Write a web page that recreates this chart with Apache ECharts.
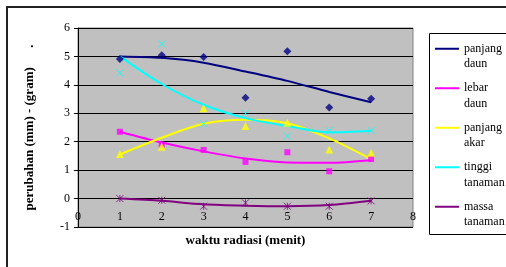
<!DOCTYPE html>
<html>
<head>
<meta charset="utf-8">
<script src="https://cdn.jsdelivr.net/npm/echarts@6/dist/echarts.min.js"></script>
<style>
  html, body { margin: 0; padding: 0; background: #fff; }
  #chart { width: 506px; height: 267px; }
</style>
</head>
<body>
<div id="chart"></div>
<script>
// waktu radiasi (menit)
const xValues = [1, 2, 3, 4, 5, 6, 7];
const xTicks = [0, 1, 2, 3, 4, 5, 6, 7, 8];
const yTicks = [-1, 0, 1, 2, 3, 4, 5, 6];

// titik data
const panjangDaun = [4.91, 5.04, 4.98, 3.55, 5.18, 3.20, 3.51];
const lebarDaun = [2.35, 1.90, 1.71, 1.29, 1.63, 0.96, 1.39];
const panjangAkar = [1.57, 1.82, 3.18, 2.55, 2.67, 1.73, 1.61];
const tinggiTanaman = [4.42, 5.44, 2.63, 3.00, 2.20, 2.39, 2.39];
const massaTanaman = [0.00, -0.06, -0.27, -0.15, -0.27, -0.27, -0.08];

// garis trend
const trendPanjangDaun = [5.00, 4.95, 4.78, 4.47, 4.14, 3.75, 3.39];
const trendLebarDaun = [2.35, 1.97, 1.66, 1.41, 1.27, 1.26, 1.35];
const trendPanjangAkar = [1.55, 2.14, 2.63, 2.77, 2.65, 2.12, 1.39];
const trendTinggiTanaman = [5.00, 4.03, 3.30, 2.83, 2.55, 2.33, 2.39];
const trendMassaTanaman = [0.00, -0.08, -0.20, -0.25, -0.27, -0.23, -0.08];

const names = ['panjang daun', 'lebar daun', 'panjang akar', 'tinggi tanaman', 'massa tanaman'];
const colors = ['#000080', '#FF00FF', '#FFFF00', '#00FFFF', '#800080'];

const font = 'Liberation Serif, Times New Roman, serif';

function pairs(ys) {
  return xValues.map(function (x, i) { return [x, ys[i]]; });
}

const points = [panjangDaun, lebarDaun, panjangAkar, tinggiTanaman, massaTanaman];
const trends = [trendPanjangDaun, trendLebarDaun, trendPanjangAkar, trendTinggiTanaman, trendMassaTanaman];
const symbols = [
  { symbol: 'diamond', size: 8, stroke: false },
  { symbol: 'rect', size: 6, stroke: false },
  { symbol: 'triangle', size: 8, stroke: false },
  { symbol: 'path://M0,0L10,10M10,0L0,10', size: 7, stroke: true },
  { symbol: 'path://M0,0L10,10M10,0L0,10M5,0L5,10', size: 7, stroke: true }
];

let series = [];
for (let i = 0; i < names.length; i++) {
  series.push({
    name: names[i],
    type: 'line',
    smooth: 0.3,
    showSymbol: false,
    symbol: 'none',
    data: pairs(trends[i]),
    lineStyle: { color: colors[i], width: 2 },
    itemStyle: { color: colors[i] },
    z: 2
  });
}
for (let i = 0; i < names.length; i++) {
  const s = symbols[i];
  series.push({
    name: names[i] + ' (data)',
    type: 'scatter',
    symbol: s.symbol,
    symbolSize: s.size,
    data: pairs(points[i]),
    itemStyle: s.stroke
      ? { color: 'none', borderColor: colors[i], borderWidth: 1 }
      : { color: colors[i] },
    z: 3
  });
}

const chart = echarts.init(document.getElementById('chart'));
const option = {
  animation: false,
  textStyle: { fontFamily: font },
  grid: {
    left: 78, right: 93, top: 28, bottom: 40,
    outerBoundsMode: 'none',
    show: true,
    backgroundColor: '#C0C0C0',
    borderColor: '#808080',
    borderWidth: 1
  },
  xAxis: {
    type: 'value',
    min: xTicks[0],
    max: xTicks[xTicks.length - 1],
    interval: 1,
    name: 'waktu radiasi (menit)',
    nameLocation: 'middle',
    nameGap: 7,
    nameTextStyle: { fontFamily: font, fontWeight: 'bold', fontSize: 13, color: '#000' },
    // garis sumbu di nol digambar oleh splitLine sumbu y
    axisLine: { show: false, onZero: false },
    axisTick: { show: false },
    axisLabel: { inside: true, fontFamily: font, fontSize: 12, color: '#000', margin: 4 },
    splitLine: { show: false }
  },
  yAxis: {
    type: 'value',
    min: yTicks[0],
    max: yTicks[yTicks.length - 1],
    interval: 1,
    name: 'perubahan (mm) - (gram)      .',
    nameLocation: 'middle',
    nameGap: 42,
    nameTextStyle: { fontFamily: font, fontWeight: 'bold', fontSize: 13, color: '#000' },
    axisLine: { show: true, lineStyle: { color: '#000', width: 1 } },
    axisTick: { show: true, length: 4, lineStyle: { color: '#000' } },
    axisLabel: { fontFamily: font, fontSize: 12, color: '#000', margin: 8 },
    splitLine: { show: true, lineStyle: { color: '#000', width: 1 } }
  },
  legend: {
    data: names,
    orient: 'vertical',
    left: 435,
    top: 25.5,
    padding: 0,
    itemGap: -7,
    icon: 'rect',
    itemWidth: 24,
    itemHeight: 2,
    formatter: function (name) {
      // baris kosong di atas supaya garis sejajar dengan baris pertama
      return '\n' + name.replace(' ', '\n');
    },
    textStyle: {
      fontFamily: font,
      fontSize: 12,
      lineHeight: 15.5,
      color: '#000'
    }
  },
  graphic: [
    {
      // bingkai luar
      type: 'rect',
      shape: { x: 7, y: 7, width: 600, height: 400 },
      style: { fill: 'none', stroke: '#222', lineWidth: 2 },
      silent: true
    },
    {
      // kotak legenda
      type: 'rect',
      shape: { x: 429.5, y: 33.5, width: 120, height: 201 },
      style: { fill: 'none', stroke: '#000', lineWidth: 1 },
      silent: true
    }
  ],
  series: series
};
chart.setOption(option);
</script>
</body>
</html>
